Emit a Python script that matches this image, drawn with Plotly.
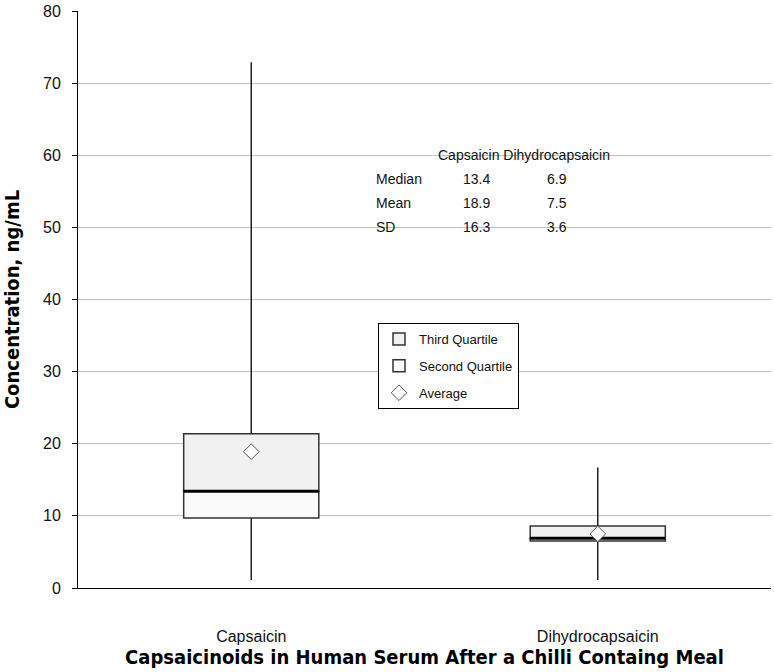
import plotly.graph_objects as go

categories = ["Capsaicin", "Dihydrocapsaicin"]
minimum = [1.1, 1.1]
q1 = [9.7, 6.5]
median = [13.4, 6.9]
q3 = [21.4, 8.6]
maximum = [72.9, 16.7]
mean = [18.9, 7.5]
sd = [16.3, 3.6]

xs = list(range(len(categories)))
box_w = 0.39
font = "Liberation Sans, Arial, sans-serif"
title_font = "DejaVu Sans Condensed, Liberation Sans Narrow, Arial Narrow, sans-serif"

fig = go.Figure()

for i in xs:
    fig.add_trace(go.Scatter(x=[i, i], y=[q3[i], maximum[i]], mode="lines",
                             line=dict(color="#222", width=1.5), showlegend=False, hoverinfo="skip"))
    fig.add_trace(go.Scatter(x=[i, i], y=[minimum[i], q1[i]], mode="lines",
                             line=dict(color="#222", width=1.5), showlegend=False, hoverinfo="skip"))

fig.add_trace(go.Bar(name="Third Quartile", x=xs, base=median, legendgroup="a",
                     y=[q3[i] - median[i] for i in xs], width=box_w,
                     marker=dict(color="#f1f1f1", line=dict(color="#333", width=1.5))))
fig.add_trace(go.Bar(name="Second Quartile", x=xs, base=q1, legendgroup="b",
                     y=[median[i] - q1[i] for i in xs], width=box_w,
                     marker=dict(color="#fafafa", line=dict(color="#333", width=1.5))))

for i in xs:
    fig.add_trace(go.Scatter(x=[i - box_w / 2, i + box_w / 2], y=[median[i], median[i]], mode="lines",
                             line=dict(color="#000", width=3), showlegend=False, hoverinfo="skip"))

fig.add_trace(go.Scatter(name="Average", x=xs, y=mean, mode="markers", legendgroup="c",
                         marker=dict(symbol="diamond", size=12, color="white",
                                     line=dict(color="#555", width=1))))

fig.add_shape(type="rect", xref="paper", yref="paper", x0=0.42, x1=0.87, y0=0.6, y1=0.77,
              fillcolor="white", line=dict(width=0), layer="below")
fig.add_shape(type="line", xref="paper", yref="paper", x0=0, x1=1, y0=1, y1=1,
              line=dict(color="white", width=2), layer="below")

row_labels = ["Median", "Mean", "SD"]
col_a = [median[0], mean[0], sd[0]]
col_b = [median[1], mean[1], sd[1]]
header_y = 155
row_y = [179, 203, 227]

# pixel -> paper coords (plot area spans x 78..771, y 11..588)
def py(p):
    return (588 - p) / 577

def px(p):
    return (p - 78) / 693

ann = []
ann.append(dict(x=px(436), y=py(header_y), text="Capsaicin Dihydrocapsaicin", xanchor="left"))
for r, lab in enumerate(row_labels):
    ann.append(dict(x=px(374), y=py(row_y[r]), text=lab, xanchor="left"))
    ann.append(dict(x=px(476), y=py(row_y[r]), text=f"{col_a[r]:.1f}", xanchor="center"))
    ann.append(dict(x=px(557), y=py(row_y[r]), text=f"{col_b[r]:.1f}", xanchor="center"))
for a in ann:
    a.update(xref="paper", yref="paper", yanchor="middle", showarrow=False,
             font=dict(family=font, size=14, color="#111"))
fig.update_layout(annotations=ann)

fig.update_layout(
    width=774, height=672,
    margin=dict(l=78, r=3, t=11, b=84, autoexpand=False),
    paper_bgcolor="white", plot_bgcolor="white",
    barmode="overlay",
    showlegend=True,
    legend=dict(x=px(378), y=py(323), xanchor="left", yanchor="top",
                bordercolor="black", borderwidth=1, bgcolor="white",
                font=dict(family=font, size=13, color="#111"),
                traceorder="grouped", itemwidth=30, tracegroupgap=7),
    xaxis=dict(range=[-0.5, 1.5], tickvals=xs, ticktext=categories, showgrid=False,
               showline=True, linecolor="black", linewidth=1, ticks="", zeroline=False,
               automargin=False, ticklabelstandoff=34,
               tickfont=dict(family=font, size=16, color="#111"),
               title=dict(text="<b>Capsaicinoids in Human Serum After a Chilli Containg Meal</b>",
                          font=dict(family=title_font, size=20, color="#000"), standoff=0)),
    yaxis=dict(range=[0, 80], dtick=10, showgrid=True, gridcolor="#c0c0c0", gridwidth=1,
               showline=True, linecolor="black", linewidth=1, ticks="outside", ticklen=5,
               tickcolor="black", zeroline=False, automargin=False, ticklabelstandoff=8,
               tickfont=dict(family=font, size=16, color="#111"),
               title=dict(text="<b>Concentration, ng/mL</b>",
                          font=dict(family=title_font, size=20, color="#000"), standoff=19)),
)

fig.write_html("out.html", config={"displayModeBar": False},
               post_script="document.body.style.margin='0';document.body.style.overflow='hidden';")
